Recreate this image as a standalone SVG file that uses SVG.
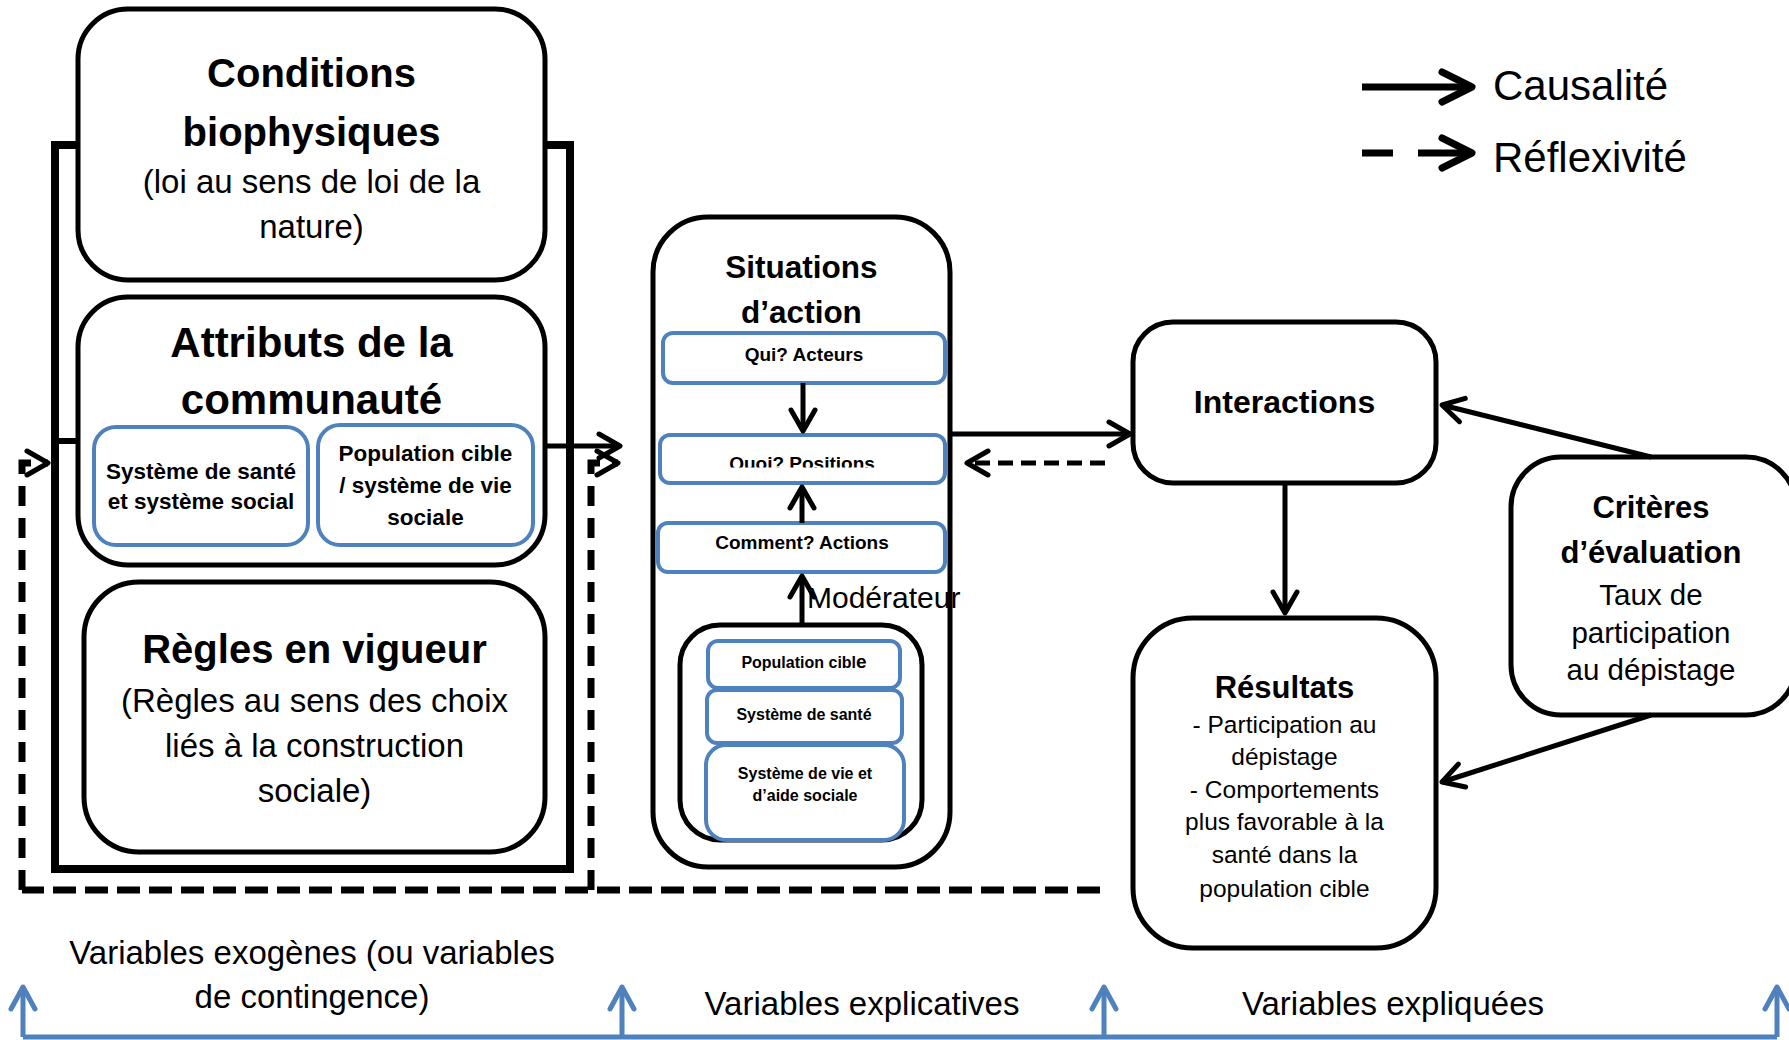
<svg xmlns="http://www.w3.org/2000/svg" width="1789" height="1040" viewBox="0 0 1789 1040">
<style>
text{font-family:"Liberation Sans",Arial,sans-serif;fill:#000;text-anchor:middle}
.b{font-weight:bold}
.box{fill:#fff;stroke:#000;stroke-width:5}
.blue{fill:#fff;stroke:#4F81BD;stroke-width:4}
.ln{fill:none;stroke:#000;stroke-width:5}
.dash{fill:none;stroke:#000;stroke-width:7}
.ax{fill:none;stroke:#4F81BD;stroke-width:5}
.t33{font-size:33px}
.l{text-anchor:start}
</style>
<defs>
<marker id="ah" markerUnits="userSpaceOnUse" viewBox="-26 -16 32 32" markerWidth="32" markerHeight="32" refX="0" refY="0" orient="auto" overflow="visible">
<path d="M-21,-12 L0,0 L-21,12" fill="none" stroke="#000" stroke-width="5" stroke-linecap="round" stroke-linejoin="round"/>
</marker>
<marker id="ahb" markerUnits="userSpaceOnUse" viewBox="-36 -20 40 40" markerWidth="40" markerHeight="40" refX="0" refY="0" orient="auto" overflow="visible">
<path d="M-30,-15 L0,0 L-30,15" fill="none" stroke="#000" stroke-width="7" stroke-linecap="round" stroke-linejoin="round"/>
</marker>
<marker id="ahblue" markerUnits="userSpaceOnUse" viewBox="-26 -16 32 32" markerWidth="32" markerHeight="32" refX="0" refY="0" orient="auto" overflow="visible">
<path d="M-22,-12 L0,0 L-22,12" fill="none" stroke="#4F81BD" stroke-width="5" stroke-linecap="round" stroke-linejoin="round"/>
</marker>
<clipPath id="clipQuoi"><rect x="660" y="435" width="285" height="32.5"/></clipPath>
</defs>

<g id="frame">
<rect x="55" y="145" width="515" height="724" fill="none" stroke="#000" stroke-width="8"/>
</g>

<g id="conditions">
<rect class="box" x="78" y="9" width="467" height="271" rx="50"/>
<text class="b" x="311.5" y="87" font-size="40">Conditions</text>
<text class="b" x="311.5" y="146" font-size="40">biophysiques</text>
<text class="t33" x="311.5" y="193">(loi au sens de loi de la</text>
<text class="t33" x="311.5" y="238">nature)</text>
</g>

<g id="attributs">
<rect class="box" x="78" y="297" width="467" height="268" rx="50"/>
<text class="b" x="311.5" y="357" font-size="42">Attributs de la</text>
<text class="b" x="311.5" y="414" font-size="42">communauté</text>
<g id="attr-sante">
<rect class="blue" x="94" y="427" width="214" height="118" rx="22"/>
<text class="b" x="201" y="479" font-size="22.5">Système de santé</text>
<text class="b" x="201" y="509" font-size="22.5">et système social</text>
</g>
<g id="attr-population">
<rect class="blue" x="318" y="425" width="215" height="120" rx="22"/>
<text class="b" x="425.5" y="461" font-size="22.5">Population cible</text>
<text class="b" x="425.5" y="493" font-size="22.5">/ système de vie</text>
<text class="b" x="425.5" y="525" font-size="22.5">sociale</text>
</g>
</g>

<g id="regles">
<rect class="box" x="84" y="582" width="461" height="270" rx="55"/>
<text class="b" x="314.5" y="663" font-size="40">Règles en vigueur</text>
<text class="t33" x="314.5" y="712">(Règles au sens des choix</text>
<text class="t33" x="314.5" y="757">liés à la construction</text>
<text class="t33" x="314.5" y="802">sociale)</text>
</g>

<g id="situations">
<rect class="box" x="653" y="217" width="297" height="650" rx="55"/>
<text class="b" x="801.5" y="278" font-size="31.5">Situations</text>
<text class="b" x="801.5" y="323" font-size="31.5">d’action</text>
<g id="qui">
<rect class="blue" x="663" y="333" width="282" height="50" rx="10"/>
<text class="b" x="804" y="361" font-size="19">Qui? Acteurs</text>
</g>
<g id="quoi">
<rect class="blue" x="660" y="435" width="285" height="48" rx="10"/>
<text class="b" x="802" y="470" font-size="19" clip-path="url(#clipQuoi)">Quoi? Positions</text>
</g>
<g id="comment">
<rect class="blue" x="658" y="523" width="287" height="49" rx="10"/>
<text class="b" x="802" y="549" font-size="19">Comment? Actions</text>
</g>
<g id="moderateur">
<rect class="box" x="680" y="625" width="242" height="215" rx="40"/>
<rect class="blue" x="708" y="641" width="192" height="47" rx="10"/>
<text class="b" x="804" y="668" font-size="16">Population cibl<tspan font-size="19">e</tspan></text>
<rect class="blue" x="707" y="690" width="195" height="53" rx="10"/>
<text class="b" x="804" y="720" font-size="16">Système de santé</text>
<rect class="blue" x="706" y="745" width="198" height="95" rx="20"/>
<text class="b" x="805" y="779" font-size="16">Système de vie et</text>
<text class="b" x="805" y="801" font-size="16">d’aide sociale</text>
</g>
</g>

<g id="interactions">
<rect class="box" x="1133" y="322" width="303" height="161" rx="40"/>
<text class="b" x="1284.5" y="413" font-size="32">Interactions</text>
</g>

<g id="resultats">
<rect class="box" x="1133" y="618" width="303" height="330" rx="60"/>
<text class="b" x="1284.5" y="698" font-size="31">Résultats</text>
<text x="1284.5" y="733" font-size="24.5">- Participation au</text>
<text x="1284.5" y="765" font-size="24.5">dépistage</text>
<text x="1284.5" y="798" font-size="24.5">- Comportements</text>
<text x="1284.5" y="830" font-size="24.5">plus favorable à la</text>
<text x="1284.5" y="863" font-size="24.5">santé dans la</text>
<text x="1284.5" y="897" font-size="24.5">population cible</text>
</g>

<g id="criteres">
<rect class="box" x="1511" y="457" width="285" height="258" rx="50"/>
<text class="b" x="1651" y="518" font-size="31">Critères</text>
<text class="b" x="1651" y="563" font-size="31">d’évaluation</text>
<text x="1651" y="605" font-size="29.5">Taux de</text>
<text x="1651" y="643" font-size="29.5">participation</text>
<text x="1651" y="680" font-size="29.5">au dépistage</text>
</g>

<g id="connectors">
<line x1="55" y1="441" x2="78" y2="441" stroke="#000" stroke-width="6"/>
<line class="ln" x1="545" y1="446" x2="620" y2="446" marker-end="url(#ah)"/>
<line class="ln" x1="803" y1="383" x2="803" y2="431" marker-end="url(#ah)"/>
<line class="ln" x1="802" y1="523" x2="802" y2="487" marker-end="url(#ah)"/>
<line class="ln" x1="802" y1="625" x2="802" y2="576" marker-end="url(#ah)"/>
<line class="ln" x1="950" y1="434" x2="1130" y2="434" marker-end="url(#ah)"/>
<line class="ln" x1="1105" y1="463" x2="967" y2="463" stroke-dasharray="15 8" marker-end="url(#ah)"/>
<line class="ln" x1="1285" y1="483" x2="1285" y2="613" marker-end="url(#ah)"/>
<line class="ln" x1="1651" y1="457" x2="1442" y2="405" marker-end="url(#ah)"/>
<line class="ln" x1="1651" y1="715" x2="1442" y2="782" marker-end="url(#ah)"/>
<path class="dash" d="M1100,890 H22" stroke-dasharray="23 9"/>
<path class="dash" d="M22,890 V463 H48" stroke-dasharray="20 12" marker-end="url(#ah)"/>
<path class="dash" d="M591,890 V463 H618" stroke-dasharray="20 12" marker-end="url(#ah)"/>
</g>

<g id="moderateur-label">
<text class="l" x="807" y="608" font-size="30">Modérateur</text>
</g>

<g id="legend">
<line x1="1362" y1="87" x2="1472" y2="87" stroke="#000" stroke-width="7" marker-end="url(#ahb)"/>
<line x1="1362" y1="153" x2="1472" y2="153" stroke="#000" stroke-width="7" stroke-dasharray="31 25 60" marker-end="url(#ahb)"/>
<text class="l" x="1493" y="100" font-size="42">Causalité</text>
<text class="l" x="1493" y="172" font-size="42">Réflexivité</text>
</g>

<g id="axis">
<path class="ax" d="M23,1037 H1777"/>
<line class="ax" x1="23" y1="1037" x2="23" y2="987" marker-end="url(#ahblue)"/>
<line class="ax" x1="622" y1="1037" x2="622" y2="987" marker-end="url(#ahblue)"/>
<line class="ax" x1="1104" y1="1037" x2="1104" y2="987" marker-end="url(#ahblue)"/>
<line class="ax" x1="1777" y1="1037" x2="1777" y2="987" marker-end="url(#ahblue)"/>
<text class="t33" x="312" y="964">Variables exogènes (ou variables</text>
<text class="t33" x="312" y="1008">de contingence)</text>
<text class="t33" x="862" y="1015">Variables explicatives</text>
<text class="t33" x="1393" y="1015">Variables expliquées</text>
</g>
</svg>
